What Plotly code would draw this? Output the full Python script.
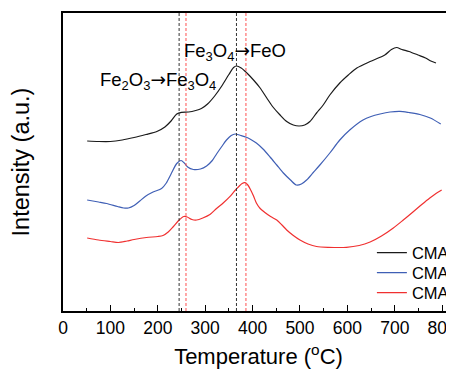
import plotly.graph_objects as go

# Temperature (°C) and intensities (arbitrary units)
t_cmar = [51, 75, 100, 125, 150, 175, 198, 215, 228, 240, 250, 265, 280, 292, 305, 320, 335, 350, 360,
          366, 376, 388, 402, 416, 430, 443, 458, 472, 486, 498, 510, 521, 535, 549, 563, 584, 602,
          620, 648, 679, 693, 704, 715, 730, 749, 765, 776, 787]
i_cmar = [170, 169.5, 169.5, 171, 173.5, 176.5, 179.5, 184, 190, 197, 198.7, 199, 200.5, 202.5, 207,
          215, 225, 236.5, 243.5, 245, 243, 238, 231, 223, 213, 204, 196, 189.5, 186, 185, 186, 189.5,
          198, 206, 216, 228, 236, 243, 249.5, 256, 261.5, 263.5, 261.5, 259.5, 256, 253, 250, 248]

t_cmac1 = [51, 75, 92, 115, 128, 138, 150, 162, 175, 190, 208, 218, 228, 240, 249, 256, 263, 275, 290,
           303, 315, 324, 335, 345, 355, 363, 375, 387, 398, 408, 422, 437, 451, 465, 480, 492, 503,
           514, 528, 542, 563, 584, 605, 633, 650, 669, 690, 711, 730, 753, 775, 797]
i_cmac1 = [111, 109, 107.5, 104.5, 103, 103, 105.5, 110, 115, 119, 122.5, 128, 137, 147.5, 150.5, 148,
           144, 141.5, 142, 145, 150.5, 157, 164.5, 171, 175.5, 177, 175.5, 173.7, 171, 168, 162, 154,
           146, 138, 131, 126, 127, 131, 138.5, 146, 158, 171, 181, 191, 194.5, 197, 199, 199.7, 198.5,
           196.5, 193, 187]

t_cmac2 = [51, 75, 100, 117, 135, 150, 176, 200, 211, 222, 233, 245, 255, 262, 272, 282, 295, 310, 324,
           338, 352, 362, 370, 378, 384, 390, 396, 402, 408, 416, 426, 438, 451, 462, 472, 486, 500,
           517, 535, 560, 598, 625, 648, 672, 697, 718, 739, 757, 774, 787, 799]
i_cmac2 = [73, 71, 69.5, 68.5, 70, 71.5, 73.5, 74.5, 75.5, 79, 84.5, 91, 94.5, 94, 91.5, 91, 93, 96.5,
           102.5, 108, 114.3, 120, 124, 127.5, 128.3, 126, 121, 115, 108, 102.5, 98.5, 94.5, 91, 86,
           81, 75.5, 71, 67, 64.5, 63.7, 63.7, 65.5, 69, 75, 83, 91, 99.3, 106.5, 113, 117.5, 121]

series_names = ["CMAR", "CMAC1", "CMAC2"]
series_colors = ["#1a1a1a", "#3f5fb5", "#f03030"]

black_marks = [245, 366]
red_marks = [259.5, 386]

x_ticks = [0, 100, 200, 300, 400, 500, 600, 700, 800]

fig = go.Figure()
legend_ids = ["legend", "legend2", "legend3"]
for t, i, n, c, lg in zip([t_cmar, t_cmac1, t_cmac2], [i_cmar, i_cmac1, i_cmac2],
                          series_names, series_colors, legend_ids):
    fig.add_trace(go.Scatter(x=t, y=i, mode="lines", name=n, legend=lg,
                             line=dict(color=c, width=1.2, shape="spline", smoothing=0.8)))

for xv in black_marks:
    fig.add_shape(type="line", xref="x", yref="paper", x0=xv, x1=xv, y0=0, y1=1,
                  line=dict(color="#333333", width=1, dash="3px,2px"))
for xv in red_marks:
    fig.add_shape(type="line", xref="x", yref="paper", x0=xv, x1=xv, y0=0, y1=1,
                  line=dict(color="#ff5050", width=1, dash="3px,2px"))

arrow = "<span style='font-family:DejaVu Sans'>→</span>"
fig.add_annotation(x=363, y=259, xref="x", yref="y", text="Fe<sub>3</sub>O<sub>4</sub>" + arrow + "FeO",
                   showarrow=False, font=dict(size=18.5, color="black", family="Arial"))
fig.add_annotation(x=200, y=230, xref="x", yref="y",
                   text="Fe<sub>2</sub>O<sub>3</sub>" + arrow + "Fe<sub>3</sub>O<sub>4</sub>",
                   showarrow=False, font=dict(size=18.5, color="black", family="Arial"))

leg_common = dict(x=0.79, xanchor="left", yanchor="middle", bgcolor="rgba(0,0,0,0)",
                  font=dict(size=16.5, family="Arial"))

fig.update_layout(
    width=446, height=361,
    margin=dict(l=55, r=0, t=5, b=58, autoexpand=False),
    paper_bgcolor="white", plot_bgcolor="white",
    font=dict(family="Arial", color="black"),
    showlegend=True,
    legend=dict(y=0.195, **leg_common),
    legend2=dict(y=0.128, **leg_common),
    legend3=dict(y=0.061, **leg_common),
    xaxis=dict(range=[0, 825], tickvals=x_ticks, ticks="inside", ticklen=6, tickwidth=1.2,
               tickcolor="black", showline=True, linecolor="black", linewidth=1.5, mirror=True,
               showgrid=False, zeroline=False, tickfont=dict(size=17.5), ticklabeloverflow="allow",
               minor=dict(dtick=50, tick0=0, ticks="inside", ticklen=3.5, tickwidth=1.2, tickcolor="black"),
               title=dict(text="Temperature (<sup>o</sup>C)", font=dict(size=22), standoff=15)),
    yaxis=dict(range=[0, 298], showticklabels=False, ticks="", showline=True, linecolor="black",
               linewidth=1.5, mirror=False, showgrid=False, zeroline=False,
               title=dict(text="Intensity (a.u.)", font=dict(size=23.5), standoff=28)),
)

fig.write_html("out.html")
